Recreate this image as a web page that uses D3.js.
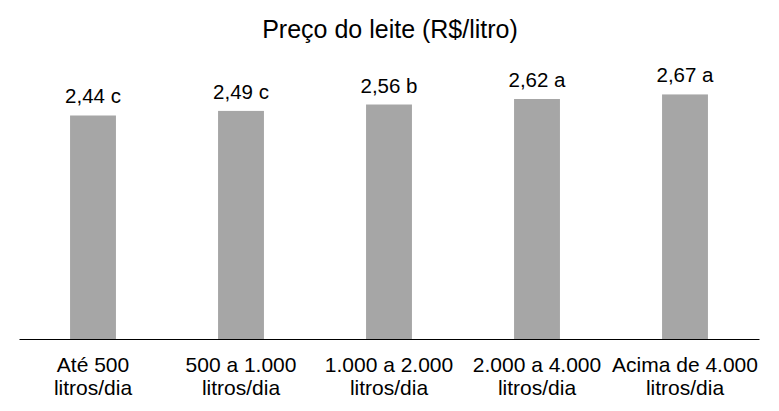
<!DOCTYPE html>
<html>
<head>
<meta charset="utf-8">
<script src="https://cdn.jsdelivr.net/npm/d3@7"></script>
<style>
  body { margin: 0; background: #fff; }
  svg { display: block; }
  text { font-family: "Liberation Sans", Arial, sans-serif; fill: #000; }
</style>
</head>
<body>
<script>
"use strict";
(function(){
    const categories = [
        ["Até 500", "litros/dia"],
        ["500 a 1.000", "litros/dia"],
        ["1.000 a 2.000", "litros/dia"],
        ["2.000 a 4.000", "litros/dia"],
        ["Acima de 4.000", "litros/dia"]
    ]
    const prices = [2.44, 2.49, 2.56, 2.62, 2.67]
    const letters = ["c", "c", "b", "a", "a"]
    const title = "Preço do leite (R$/litro)"

    const measurements = {
        width: 779,
        height: 411,
        left: 19,
        right: 759,
        baseline: 339
    }

    const svg = d3.select("body").append("svg")
        .attr("width", measurements.width)
        .attr("height", measurements.height)

    const keys = categories.map((c, i) => i)
    const scaleX = d3.scaleBand()
        .domain(keys)
        .range([measurements.left, measurements.right])
        .paddingInner(0.69)
        .paddingOuter(0.345)
    const scaleY = d3.scaleLinear()
        .domain([0, 3])
        .range([measurements.baseline, measurements.baseline - 3 * 91.6])

    //bars
    svg.selectAll(".bar")
        .data(prices)
        .enter()
        .append("rect")
            .attr("class", "bar")
            .attr("x", (d, i) => scaleX(i))
            .attr("y", d => scaleY(d))
            .attr("width", scaleX.bandwidth())
            .attr("height", d => scaleY(0) - scaleY(d))
            .attr("fill", "#a6a6a6")

    //value labels
    svg.selectAll(".value")
        .data(prices)
        .enter()
        .append("text")
            .attr("class", "value")
            .attr("x", (d, i) => scaleX(i) + scaleX.bandwidth() / 2)
            .attr("y", d => scaleY(d) - 12)
            .attr("text-anchor", "middle")
            .style("font-size", "20.5px")
            .text((d, i) => d.toFixed(2).replace(".", ",") + " " + letters[i])

    //x axis
    const xAxis = d3.axisBottom(scaleX)
        .tickSize(0)
        .tickSizeOuter(0)
        .tickFormat("")
    const axisG = svg.append("g")
        .attr("transform", "translate(0," + measurements.baseline + ")")
        .call(xAxis)
    axisG.select(".domain")
        .attr("stroke", "#000")
        .attr("stroke-width", 1.2)

    //category labels, two lines each
    const catLabels = svg.selectAll(".cat")
        .data(categories)
        .enter()
        .append("text")
            .attr("class", "cat")
            .attr("text-anchor", "middle")
            .style("font-size", "21px")
    catLabels.each(function(d, i) {
        const cx = scaleX(i) + scaleX.bandwidth() / 2
        d3.select(this).selectAll("tspan")
            .data(d)
            .enter()
            .append("tspan")
                .attr("x", cx)
                .attr("y", (t, j) => 372 + j * 23)
                .text(t => t)
    })

    //title
    svg.append("text")
        .attr("x", 390)
        .attr("y", 38)
        .attr("text-anchor", "middle")
        .style("font-size", "25px")
        .text(title)
})()
</script>
</body>
</html>
